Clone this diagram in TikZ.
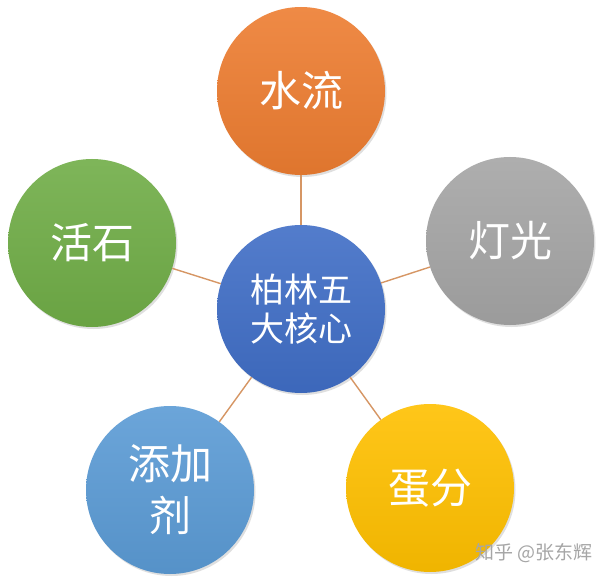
\documentclass[tikz,border=0pt]{standalone}
\usepackage{fontspec}
\setmainfont{Noto Sans CJK SC}
\usepackage{tikz}
\usetikzlibrary{calc,shadows}
\definecolor{coreblue}{RGB}{64,110,198}
\definecolor{waterorange}{RGB}{237,125,49}
\definecolor{lightgray}{RGB}{165,165,165}
\definecolor{stonegreen}{RGB}{112,173,71}
\definecolor{addblue}{RGB}{91,155,213}
\definecolor{eggyellow}{RGB}{255,192,0}
\definecolor{spoke}{RGB}{214,150,100}
\tikzset{
    ball/.style={
            circle, minimum size=168pt, inner sep=0pt, text=white, align=center,
            font=\fontsize{42}{52}\selectfont,
            top color=#1!90!white, bottom color=#1!94!black,
            drop shadow={opacity=0.25, shadow xshift=1.5pt, shadow yshift=-2pt}
        },
    core ball/.style={ball=coreblue, font=\fontsize{34}{39}\selectfont},
    spoke line/.style={draw=spoke, line width=1.4pt},
}

\begin{document}
\begin{tikzpicture}[x=1pt,y=-1pt]
            \useasboundingbox[fill=white] (0,0) rectangle (600,580);

            \coordinate (C0) at (301,309);
            \coordinate (P1) at (301,91);
            \coordinate (P2) at (510,241);
            \coordinate (P3) at (430,488);
            \coordinate (P4) at (170,490);
            \coordinate (P5) at (92,243);

            \node [core ball] (core) at (C0) {柏林五\\大核心};
            \node [ball=waterorange] (water) at (P1) {水流};
            \node [ball=lightgray] (light) at (P2) {灯光};
            \node [ball=eggyellow] (egg) at (P3) {蛋分};
            \node [ball=addblue] (additive) at (P4) {添加\\剂};
            \node [ball=stonegreen] (stone) at (P5) {活石};

            \begin{scope}[spoke line]
                \draw (core) -- (water);
                \draw (core) -- (light);
                \draw (core) -- (egg);
                \draw (core) -- (additive);
                \draw (core) -- (stone);
            \end{scope}

            \node [anchor=west, text=black!35, font=\fontsize{19}{19}\selectfont] (mark) at (472,553) {知乎 @张东辉};
        \end{tikzpicture}
\end{document}
